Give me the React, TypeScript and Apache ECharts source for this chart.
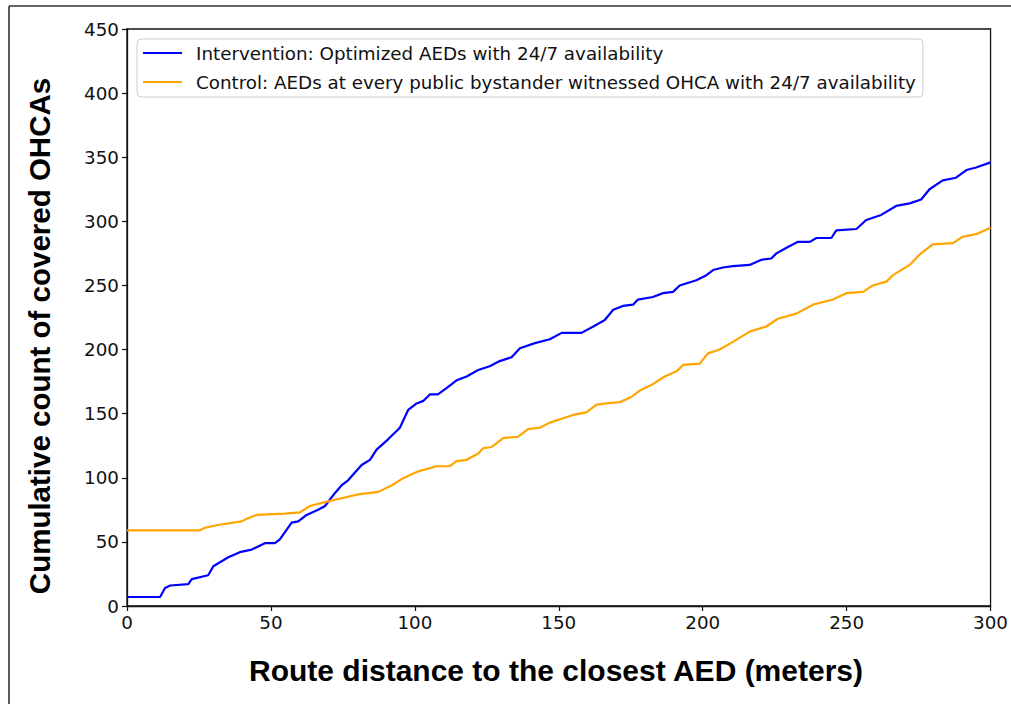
import React, { useEffect, useRef } from "react";
import * as echarts from "echarts";

const xTicks = [0, 50, 100, 150, 200, 250, 300];
const yTicks = [0, 50, 100, 150, 200, 250, 300, 350, 400, 450];

const interventionName = "Intervention: Optimized AEDs with 24/7 availability";
const controlName = "Control: AEDs at every public bystander witnessed OHCA with 24/7 availability";

const interventionDist = [0, 11.5, 13.2, 15, 21.3, 22.5, 28.2, 30, 35.2, 39.2, 43.3, 47.9, 51.4, 53.1, 57.2, 59.5, 62.4, 66.4, 68.8, 72.2, 74.5, 76.8, 81.5, 84.4, 86.7, 90.7, 94.8, 97.7, 100.6, 103, 105.2, 108, 111, 114.5, 118, 122, 126, 129.5, 133.6, 136.5, 141.7, 146.9, 151, 157.9, 162, 166, 168.9, 172.3, 175.8, 177.5, 182.7, 186.2, 189.7, 192, 197.8, 201.3, 203.6, 207, 210.5, 216.3, 220.4, 223.8, 225.6, 229.6, 233.1, 237.2, 239.5, 244.7, 246.4, 253.4, 256.8, 262, 267.2, 271.9, 275.9, 278.8, 283.4, 288, 291.6, 295, 300];
const interventionCount = [7, 7, 14, 16, 17, 21, 24, 31, 38, 42, 44, 49, 49, 52, 65, 66, 71, 75, 78, 88, 94, 98, 110, 114, 122, 130, 139, 153, 158, 160, 165, 165, 170, 176, 179, 184, 187, 191, 194, 201, 205, 208, 213, 213, 218, 223, 231, 234, 235, 239, 241, 244, 245, 250, 254, 258, 262, 264, 265, 266, 270, 271, 275, 280, 284, 284, 287, 287, 293, 294, 301, 305, 312, 314, 317, 325, 332, 334, 340, 342, 346];

const controlDist = [0, 25.3, 27.1, 31.1, 39.8, 41.6, 45, 54.9, 60.1, 63.5, 68.8, 74.5, 80.3, 87.3, 91.9, 95.4, 101.2, 107.5, 112.2, 114.5, 118, 122, 123.7, 126.6, 130.7, 135.9, 139.3, 143.4, 146.9, 151, 155, 159.6, 163.1, 166.6, 171.2, 175.2, 178.1, 182.7, 186.8, 190.9, 193.2, 199, 201.8, 205.9, 210.5, 216.3, 222.1, 226.1, 232.5, 238.3, 245.2, 249.9, 255.7, 259.1, 263.8, 266.1, 271.9, 275.3, 279.9, 286.9, 290.3, 295, 300];
const controlCount = [59, 59, 61, 63, 66, 68, 71, 72, 73, 78, 81, 84, 87, 89, 94, 99, 105, 109, 109, 113, 114, 119, 123, 124, 131, 132, 138, 139, 143, 146, 149, 151, 157, 158, 159, 163, 168, 173, 179, 183, 188, 189, 197, 200, 206, 214, 218, 224, 228, 235, 239, 244, 245, 250, 253, 258, 266, 274, 282, 283, 288, 290, 295];

const zip = (xs: number[], ys: number[]) => xs.map((x, i) => [x, ys[i]]);

export default function App() {
  const ref = useRef<HTMLDivElement>(null);
  useEffect(() => {
    document.body.style.margin = "0";
    const chart = echarts.init(ref.current!, null, { renderer: "svg" });
    const tickFont = { fontFamily: "DejaVu Sans", fontSize: 18.3, color: "#111" };
    chart.setOption({
      animation: false,
      backgroundColor: "#fff",
      grid: {
        left: 127,
        top: 29,
        right: 20,
        bottom: 98,
        show: true,
        borderColor: "#111",
        borderWidth: 1.3,
      },
      legend: {
        orient: "vertical",
        left: 137,
        top: 39,
        padding: [3, 7, 4, 6],
        itemGap: 7,
        itemWidth: 39,
        itemHeight: 2.2,
        icon: "rect",
        borderColor: "#cccccc",
        borderWidth: 1,
        borderRadius: 4,
        backgroundColor: "#fff",
        textStyle: { ...tickFont, lineHeight: 22, padding: [0, 0, 0, 9] },
        data: [interventionName, controlName],
      },
      xAxis: {
        type: "value",
        min: 0,
        max: 300,
        interval: 50,
        axisLine: { show: true, lineStyle: { color: "#111", width: 1.3 } },
        axisTick: { show: true, length: 5, lineStyle: { color: "#111", width: 1.2 } },
        axisLabel: { ...tickFont, margin: 7, formatter: (v: number) => (xTicks.includes(v) ? String(v) : "") },
        splitLine: { show: false },
      },
      yAxis: {
        type: "value",
        min: 0,
        max: 450,
        interval: 50,
        axisLine: { show: true, lineStyle: { color: "#111", width: 1.3 } },
        axisTick: { show: true, length: 5, lineStyle: { color: "#111", width: 1.2 } },
        axisLabel: { ...tickFont, margin: 8, formatter: (v: number) => (yTicks.includes(v) ? String(v) : "") },
        splitLine: { show: false },
      },
      series: [
        {
          name: interventionName,
          type: "line",
          data: zip(interventionDist, interventionCount),
          showSymbol: false,
          symbol: "none",
          lineStyle: { color: "#0000ff", width: 2.2 },
          itemStyle: { color: "#0000ff" },
        },
        {
          name: controlName,
          type: "line",
          data: zip(controlDist, controlCount),
          showSymbol: false,
          symbol: "none",
          lineStyle: { color: "#ffa500", width: 2.2 },
          itemStyle: { color: "#ffa500" },
        },
      ],
      graphic: [
        { type: "line", shape: { x1: 9, y1: 6, x2: 1011, y2: 6 }, style: { stroke: "#333", lineWidth: 1.6 } },
        { type: "line", shape: { x1: 9, y1: 6, x2: 9, y2: 704 }, style: { stroke: "#333", lineWidth: 1.6 } },
        {
          type: "text",
          x: 39,
          y: 336,
          rotation: Math.PI / 2,
          style: {
            text: "Cumulative count of covered OHCAs",
            fontFamily: "Liberation Sans",
            fontWeight: "bold",
            fontSize: 29.5,
            fill: "#000",
            textAlign: "center",
            textVerticalAlign: "middle",
          },
        },
        {
          type: "text",
          x: 556,
          y: 670,
          style: {
            text: "Route distance to the closest AED (meters)",
            fontFamily: "Liberation Sans",
            fontWeight: "bold",
            fontSize: 30,
            fill: "#000",
            textAlign: "center",
            textVerticalAlign: "middle",
          },
        },
      ],
    });
    return () => chart.dispose();
  }, []);
  return <div ref={ref} style={{ width: 1011, height: 704 }} />;
}
